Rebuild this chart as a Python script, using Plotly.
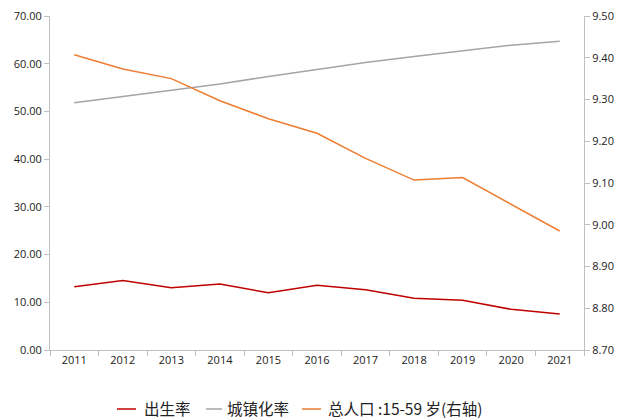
import plotly.graph_objects as go

years = ["2011", "2012", "2013", "2014", "2015", "2016", "2017", "2018", "2019", "2020", "2021"]
birth_rate = [13.27, 14.57, 13.03, 13.83, 11.99, 13.57, 12.64, 10.86, 10.41, 8.52, 7.52]
urban_rate = [51.83, 53.10, 54.49, 55.75, 57.33, 58.84, 60.24, 61.50, 62.71, 63.89, 64.72]
pop_15_59 = [9.407, 9.373, 9.350, 9.297, 9.254, 9.219, 9.159, 9.107, 9.113, 9.049, 8.985]

series_names = ["出生率", "城镇化率", "总人口 :15-59 岁(右轴)"]
series_colors = ["#C00000", "#A5A5A5", "#ED7D31"]

left_ticks = [0, 10, 20, 30, 40, 50, 60, 70]
right_ticks = [8.7, 8.8, 8.9, 9.0, 9.1, 9.2, 9.3, 9.4, 9.5]

font_num = "Open Sans, Noto Sans, sans-serif"
font_cjk = "Noto Sans CJK SC, sans-serif"

W, H = 617, 419
ML, MR, MT, MB = 50, 33, 16, 69
PW, PH = W - ML - MR, H - MT - MB


def px_x(px):
    return (px - ML) / PW


def px_y(py):
    return (H - MB - py) / PH


fig = go.Figure()
fig.add_trace(go.Scatter(x=years, y=birth_rate, name=series_names[0], mode="lines",
                         line=dict(color=series_colors[0], width=1.5)))
fig.add_trace(go.Scatter(x=years, y=urban_rate, name=series_names[1], mode="lines",
                         line=dict(color=series_colors[1], width=1.5)))
fig.add_trace(go.Scatter(x=years, y=pop_15_59, name=series_names[2], mode="lines",
                         line=dict(color=series_colors[2], width=1.5), yaxis="y2"))

# Custom legend (short line swatches like the reference)
legend_line_x = [(117, 136), (206, 222), (302, 321)]
legend_text_x = [143, 226, 327]
legend_y = 408
shapes, annotations = [], []
for (x0, x1), tx, name, col in zip(legend_line_x, legend_text_x, series_names, series_colors):
    shapes.append(dict(type="line", xref="paper", yref="paper",
                       x0=px_x(x0), x1=px_x(x1), y0=px_y(legend_y + 1), y1=px_y(legend_y + 1),
                       line=dict(color=col, width=1.5)))
    annotations.append(dict(xref="paper", yref="paper", x=px_x(tx), y=px_y(legend_y),
                            xanchor="left", yanchor="middle", showarrow=False, text=name,
                            borderpad=0,
                            font=dict(family=font_cjk, size=15.5, color="#222222")))

axis_color = "#BFBFBF"
fig.update_layout(
    width=W, height=H,
    margin=dict(l=ML, r=MR, t=MT, b=MB, autoexpand=False),
    plot_bgcolor="white", paper_bgcolor="white",
    showlegend=False,
    shapes=shapes, annotations=annotations,
    xaxis=dict(type="category", range=[-0.5, 10.5], tickson="boundaries",
               ticks="outside", ticklen=5, tickcolor=axis_color,
               showline=True, linecolor=axis_color, linewidth=1,
               showgrid=False, zeroline=False, automargin=False,
               tickfont=dict(family=font_num, size=11, color="#222222")),
    yaxis=dict(range=[0, 70], tickvals=left_ticks, ticktext=[f"{v:.2f}" for v in left_ticks],
               ticks="outside", ticklen=5, tickcolor=axis_color,
               showline=True, linecolor=axis_color, linewidth=1,
               showgrid=False, zeroline=False, automargin=False,
               tickfont=dict(family=font_num, size=11, color="#222222")),
    yaxis2=dict(range=[8.7, 9.5], tickvals=right_ticks, ticktext=[f"{v:.2f}" for v in right_ticks],
                overlaying="y", side="right",
                ticks="outside", ticklen=5, tickcolor=axis_color,
                showline=True, linecolor=axis_color, linewidth=1,
                showgrid=False, zeroline=False, automargin=False,
                tickfont=dict(family=font_num, size=11, color="#222222")),
)

fig.write_html("out.html", config={"displayModeBar": False})

with open("out.html", "r", encoding="utf-8") as f:
    html = f.read()
html = html.replace("<head>", "<head><style>html,body{margin:0;padding:0;overflow:hidden;}</style>", 1)
with open("out.html", "w", encoding="utf-8") as f:
    f.write(html)
